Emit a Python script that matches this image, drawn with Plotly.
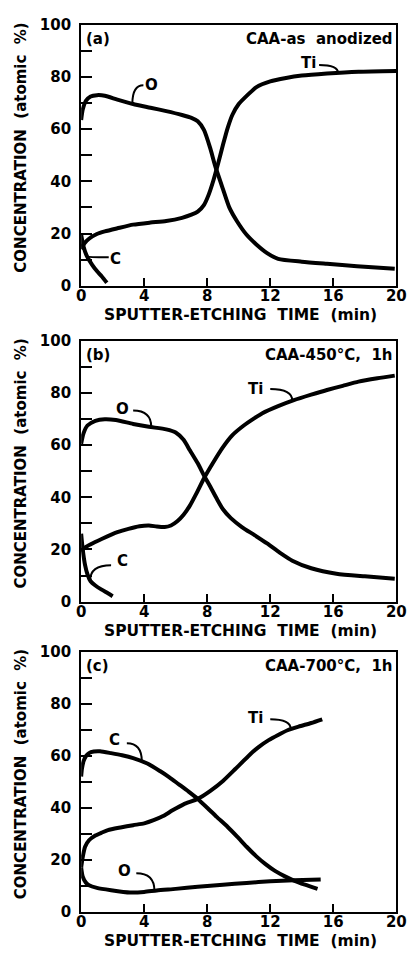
import numpy as np
import plotly.graph_objects as go

# ---------------- data ----------------
# Panel (a): CAA-as anodized
a_O_x = [0, 0.1, 0.3, 0.6, 1.0, 1.5, 2.3, 3.3, 4.4, 5.4, 6.4, 7.0, 7.4, 7.8, 8.2, 8.5, 9.0, 9.4, 9.9, 10.5, 11.1, 11.8, 12.5, 14.0, 15.6, 17.5, 19.9]
a_O_y = [63.5, 67.5, 70.8, 72.5, 73.0, 72.8, 71.3, 69.6, 68.2, 66.9, 65.4, 64.3, 63.0, 59.6, 52.5, 46.0, 37.0, 30.0, 24.6, 19.5, 15.9, 12.5, 10.3, 9.2, 8.4, 7.5, 6.5]

a_Ti_x = [0, 0.2, 0.5, 1.0, 1.5, 2.3, 3.3, 4.4, 5.4, 6.4, 7.0, 7.4, 7.8, 8.1, 8.4, 8.7, 9.0, 9.3, 9.6, 10.0, 10.6, 11.1, 12.0, 13.0, 14.0, 15.6, 17.6, 20.0]
a_Ti_y = [14.0, 16.2, 18.0, 19.8, 20.8, 22.0, 23.4, 24.2, 24.8, 26.0, 27.2, 28.4, 31.0, 35.0, 40.5, 47.0, 54.0, 60.5, 65.5, 69.6, 73.3, 76.0, 78.3, 79.6, 80.5, 81.3, 82.0, 82.3]

a_C_x = [0, 0.15, 0.35, 0.7, 1.0, 1.3, 1.63]
a_C_y = [19.6, 15.0, 11.5, 8.0, 5.6, 3.6, 1.1]

# Panel (b): CAA-450°C, 1h
b_O_x = [0, 0.15, 0.4, 0.9, 1.5, 2.2, 3.3, 4.3, 5.4, 6.0, 6.5, 6.9, 7.4, 7.8, 8.2, 8.6, 9.0, 9.5, 10.2, 11.0, 11.8, 12.6, 13.4, 14.6, 16.2, 18.0, 19.9]
b_O_y = [60.5, 64.5, 67.5, 69.3, 69.9, 69.6, 68.1, 67.0, 66.0, 64.8, 62.0, 58.0, 53.0, 48.3, 44.0, 39.5, 35.4, 32.0, 28.6, 25.5, 22.3, 18.8, 15.7, 12.8, 10.7, 9.7, 8.8]

b_Ti_x = [0, 0.3, 0.8, 1.3, 2.3, 3.0, 3.7, 4.3, 4.8, 5.3, 5.7, 6.1, 6.5, 6.9, 7.3, 7.8, 8.4, 9.0, 9.6, 10.3, 11.0, 11.5, 12.5, 13.5, 14.6, 15.6, 16.6, 17.6, 18.8, 19.9]
b_Ti_y = [19.4, 21.0, 22.6, 24.0, 26.6, 27.9, 28.9, 29.2, 28.8, 28.6, 29.2, 30.8, 33.3, 36.8, 41.3, 47.3, 53.5, 59.2, 63.8, 67.4, 70.3, 72.2, 74.9, 77.2, 79.3, 81.1, 82.7, 84.3, 85.6, 86.6]

b_C_x = [0, 0.1, 0.25, 0.4, 0.6, 0.9, 1.3, 1.7, 2.0]
b_C_y = [26.0, 20.0, 14.0, 10.5, 7.8, 6.2, 4.6, 3.2, 2.1]

# Panel (c): CAA-700°C, 1h
c_C_x = [0, 0.05, 0.16, 0.3, 0.5, 0.8, 1.2, 1.9, 2.6, 3.3, 4.2, 5.0, 5.6, 6.2, 6.8, 7.4, 8.0, 8.6, 9.3, 9.9, 10.5, 11.1, 11.7, 12.3, 12.9, 13.5, 14.2, 15.0]
c_C_y = [52.0, 55.0, 58.0, 59.8, 61.0, 61.6, 61.7, 61.0, 60.2, 59.1, 57.0, 54.1, 51.7, 49.0, 46.3, 43.4, 40.0, 36.5, 32.6, 28.9, 25.0, 21.4, 18.3, 15.7, 13.7, 12.0, 10.4, 8.8]

c_Ti_x = [0, 0.1, 0.25, 0.5, 0.9, 1.3, 1.7, 2.5, 3.3, 4.0, 4.6, 5.2, 5.8, 6.5, 7.4, 8.2, 9.0, 9.8, 10.7, 11.3, 11.9, 12.5, 13.1, 13.8, 14.6, 15.3]
c_Ti_y = [17.0, 21.0, 25.0, 27.5, 29.3, 30.4, 31.4, 32.4, 33.3, 34.0, 35.2, 36.8, 39.0, 41.3, 43.4, 46.5, 50.3, 55.0, 60.4, 63.5, 66.0, 68.0, 69.8, 71.2, 72.6, 74.0]

c_O_x = [0, 0.1, 0.3, 0.5, 1.0, 1.9, 3.1, 4.0, 4.8, 6.0, 7.4, 9.0, 10.5, 12.0, 13.5, 15.2]
c_O_y = [17.0, 13.5, 11.2, 10.2, 9.2, 8.3, 7.4, 7.6, 8.2, 8.8, 9.6, 10.4, 11.1, 11.7, 12.1, 12.4]

x_ticks = [0, 4, 8, 12, 16, 20]
y_ticks = [0, 20, 40, 60, 80, 100]
y_minor_ticks = [10, 30, 50, 70, 90]

panel_tags = ["(a)", "(b)", "(c)"]
panel_titles = ["CAA-as  anodized", "CAA-450°C,  1h", "CAA-700°C,  1h"]

series = [
    {"O": (a_O_x, a_O_y), "Ti": (a_Ti_x, a_Ti_y), "C": (a_C_x, a_C_y)},
    {"O": (b_O_x, b_O_y), "Ti": (b_Ti_x, b_Ti_y), "C": (b_C_x, b_C_y)},
    {"O": (c_O_x, c_O_y), "Ti": (c_Ti_x, c_Ti_y), "C": (c_C_x, c_C_y)},
]

# curve labels: (name, label x, label y, leader start x, leader start y, x where leader meets curve)
curve_labels = [
    [("O", 4.45, 77.0, 3.95, 76.8, 3.25), ("Ti", 14.4, 85.3, 15.1, 84.6, 16.3), ("C", 2.2, 10.3, 1.75, 10.9, 0.4)],
    [("O", 2.6, 74.0, 3.3, 73.2, 4.45), ("Ti", 11.05, 81.6, 12.0, 81.5, 13.4), ("C", 2.6, 15.4, 1.9, 14.0, 0.57)],
    [("C", 2.1, 66.0, 2.9, 64.8, 3.85), ("Ti", 11.05, 74.7, 12.0, 74.0, 13.3), ("O", 2.75, 15.5, 3.5, 14.8, 4.65)],
]

# ---------------- figure ----------------
W, H = 415, 960
x_dom = [79 / W, 406 / W]
y_doms = [
    [1 - 282 / H, 1 - 16 / H],
    [1 - 604 / H, 1 - 338 / H],
    [1 - 920 / H, 1 - 655 / H],
]

FONT = dict(family="DejaVu Sans", weight="bold", color="black")

# y ticks: labelled majors plus unlabelled minors (same length in the reference)
y_tickvals = sorted(y_ticks + y_minor_ticks)
y_ticktext = [str(v) if v in y_ticks else "" for v in y_tickvals]

fig = go.Figure()
shapes = []
annotations = []

for i in range(3):
    xa = "x" if i == 0 else f"x{i+1}"
    ya = "y" if i == 0 else f"y{i+1}"
    for name, (xs, ys) in series[i].items():
        fig.add_trace(go.Scatter(
            x=xs, y=ys, mode="lines", name=name, xaxis=xa, yaxis=ya,
            line=dict(color="black", width=4, shape="spline", smoothing=0.6),
            showlegend=False, hoverinfo="skip",
        ))
    # curve labels with curved leaders
    for name, lx, ly, sx, sy, cx in curve_labels[i]:
        xs, ys = series[i][name]
        cy = float(np.interp(cx, xs, ys))
        shapes.append(dict(
            type="path", xref=xa, yref=ya,
            path=f"M {sx},{sy} Q {cx},{sy} {cx},{cy}",
            line=dict(color="black", width=2),
        ))
        annotations.append(dict(
            x=lx, y=ly, xref=xa, yref=ya, text=name, showarrow=False,
            font=dict(FONT, size=15), xanchor="center", yanchor="middle",
        ))
    # panel tag and condition
    annotations.append(dict(
        x=0.01, y=0.945, xref=f"{xa} domain", yref=f"{ya} domain", text=panel_tags[i],
        showarrow=False, xanchor="left", yanchor="middle", font=dict(FONT, size=15),
    ))
    annotations.append(dict(
        x=0.995, y=0.945, xref=f"{xa} domain", yref=f"{ya} domain", text=panel_titles[i],
        showarrow=False, xanchor="right", yanchor="middle", font=dict(FONT, size=15),
    ))
    # axis titles
    annotations.append(dict(
        x=-0.19, y=0.53, xref=f"{xa} domain", yref=f"{ya} domain",
        text="CONCENTRATION  (atomic  %)", textangle=-90, showarrow=False,
        xanchor="center", yanchor="middle", font=dict(FONT, size=15),
    ))
    annotations.append(dict(
        x=0.505, y=-0.113, xref=f"{xa} domain", yref=f"{ya} domain",
        text="SPUTTER-ETCHING  TIME  (min)", showarrow=False,
        xanchor="center", yanchor="middle", font=dict(FONT, size=15.5),
    ))

    axis_common = dict(showline=True, linecolor="black", linewidth=2, mirror=True,
                       showgrid=False, zeroline=False, ticks="inside", tickcolor="black",
                       tickwidth=2, tickfont=dict(FONT, size=15), ticklabeloverflow="allow")
    fig.update_layout(**{
        ("xaxis" if i == 0 else f"xaxis{i+1}"): dict(
            axis_common, domain=x_dom, range=[0, 20], tickmode="array", tickvals=x_ticks,
            ticklen=8, anchor=ya, ticklabelstandoff=-5),
        ("yaxis" if i == 0 else f"yaxis{i+1}"): dict(
            axis_common, domain=y_doms[i], range=[0, 100], tickmode="array",
            tickvals=y_tickvals, ticktext=y_ticktext, ticklen=11,
            ticklabelstandoff=5, anchor=xa),
    })

fig.update_layout(
    width=W, height=H, margin=dict(l=0, r=0, t=0, b=0),
    paper_bgcolor="white", plot_bgcolor="white",
    shapes=shapes, annotations=annotations, font=FONT,
)

fig.write_html("out.html")
